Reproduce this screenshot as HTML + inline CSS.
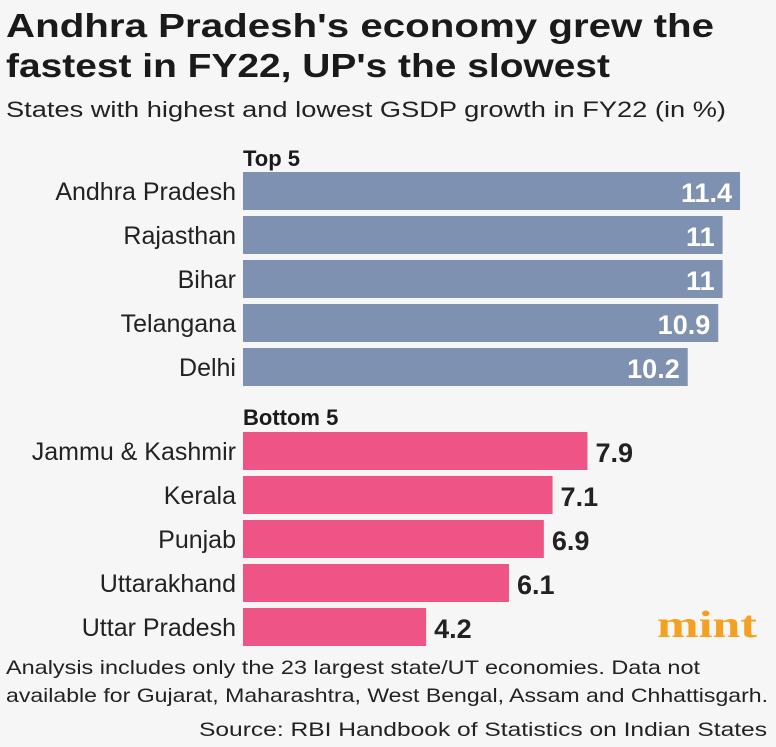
<!DOCTYPE html>
<html><head><meta charset="utf-8"><style>
body{margin:0;background:#f6f6f6;}
svg{display:block;font-family:"Liberation Sans",sans-serif;}
</style></head><body>
<svg id="c" width="776" height="747">
<rect width="776" height="747" fill="#f6f6f6"/>
<text x="6" y="37" font-size="33" font-weight="bold" fill="#1a1a1a" textLength="708" lengthAdjust="spacingAndGlyphs">Andhra Pradesh's economy grew the</text>
<text x="6" y="77" font-size="33" font-weight="bold" fill="#1a1a1a" textLength="604" lengthAdjust="spacingAndGlyphs">fastest in FY22, UP's the slowest</text>
<text x="6" y="117" font-size="22" fill="#222" textLength="720" lengthAdjust="spacingAndGlyphs">States with highest and lowest GSDP growth in FY22 (in %)</text>
<text x="243" y="166" font-size="22" font-weight="bold" fill="#1a1a1a">Top 5</text>
<text x="243" y="425" font-size="22" font-weight="bold" fill="#1a1a1a">Bottom 5</text>
<g id="bars"></g>
<text x="757" y="637" font-size="38" font-weight="bold" fill="#f5a020" text-anchor="end" font-family="Liberation Serif,serif" textLength="100" lengthAdjust="spacingAndGlyphs">mint</text>
<text x="6" y="674" font-size="19.5" fill="#222" textLength="694" lengthAdjust="spacingAndGlyphs">Analysis includes only the 23 largest state/UT economies. Data not</text>
<text x="6" y="702" font-size="19.5" fill="#222" textLength="762" lengthAdjust="spacingAndGlyphs">available for Gujarat, Maharashtra, West Bengal, Assam and Chhattisgarh.</text>
<text x="767" y="736" font-size="19.5" fill="#222" text-anchor="end" textLength="568" lengthAdjust="spacingAndGlyphs">Source: RBI Handbook of Statistics on Indian States</text>
</svg>
<script>
const topStates=["Andhra Pradesh","Rajasthan","Bihar","Telangana","Delhi"];
const topValues=[11.4,11,11,10.9,10.2];
const bottomStates=["Jammu & Kashmir","Kerala","Punjab","Uttarakhand","Uttar Pradesh"];
const bottomValues=[7.9,7.1,6.9,6.1,4.2];
const NS="http://www.w3.org/2000/svg";
const g=document.getElementById('bars');
const x0=243, scale=43.6, bh=38, step=44;
const xw=v=>v*scale;
function mk(tag,attrs){const e=document.createElementNS(NS,tag);for(const k in attrs)e.setAttribute(k,attrs[k]);g.appendChild(e);return e;}
function group(states,vals,y0,color,inside){
  states.forEach((s,i)=>{
    const y=y0+i*step,w=xw(vals[i]);
    const r=mk('rect',{x:x0,y:y,width:w,height:bh,fill:color});
    
    
    const l=mk('text',{x:236,y:y+28,'font-size':25,fill:'#222','text-anchor':'end'});
    l.textContent=s;
    
    
    const t=inside?mk('text',{x:x0+w-8,y:y+30,'font-size':27,'font-weight':'bold',fill:'#fff','text-anchor':'end'})
                  :mk('text',{x:x0+w+8,y:y+30,'font-size':27,'font-weight':'bold',fill:'#222'});
    t.textContent=String(vals[i]);
    
    
  });
}
group(topStates,topValues,172,'#7f91b0',true);
group(bottomStates,bottomValues,432,'#ee5586',false);
</script>
</body></html>
